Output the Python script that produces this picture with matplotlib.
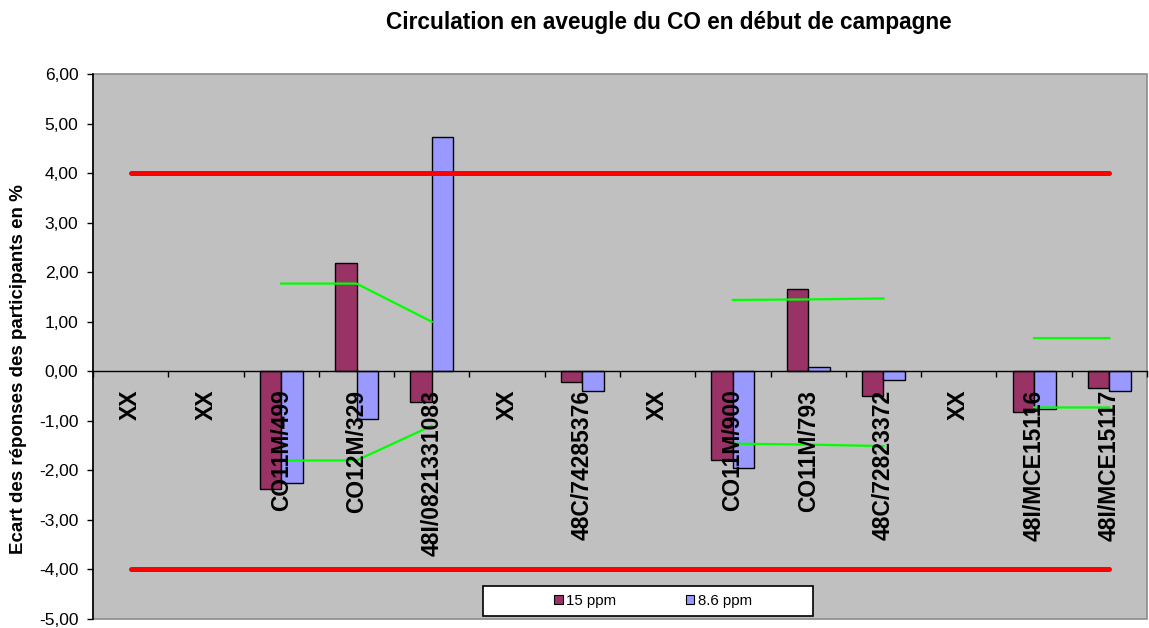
import numpy as np
import matplotlib
matplotlib.use("Agg")
import matplotlib.pyplot as plt
from matplotlib.patches import Patch, Rectangle
from matplotlib.ticker import FuncFormatter

plt.rcParams['font.family'] = ['Liberation Sans', 'DejaVu Sans']

categories = ["XX", "XX", "CO11M/499", "CO12M/329", "48I/0821331083", "XX",
              "48C/74285376", "XX", "CO11M/900", "CO11M/793", "48C/72823372",
              "XX", "48I/MCE15116", "48I/MCE15117"]
nan = np.nan
s15 = [nan, nan, -2.37, 2.19, -0.62, nan, -0.22, nan, -1.80, 1.66, -0.49, nan, -0.83, -0.34]
s86 = [nan, nan, -2.25, -0.96, 4.73, nan, -0.39, nan, -1.95, 0.08, -0.17, nan, -0.77, -0.40]
upper_lim = [nan, nan, 1.77, 1.77, 1.00, nan, nan, nan, 1.44, 1.45, 1.47, nan, 0.67, 0.67]
lower_lim = [nan, nan, -1.80, -1.80, -1.10, nan, nan, nan, -1.46, -1.48, -1.51, nan, -0.73, -0.73]
tol_hi = [4.0] * len(categories)
tol_lo = [-4.0] * len(categories)
series_names = ["15 ppm", "8.6 ppm"]
title = "Circulation en aveugle du CO en début de campagne"
ylabel = "Ecart des réponses des participants en %"

W, H = 1149, 628
fig = plt.figure(figsize=(W / 100, H / 100), dpi=100)
fig.patch.set_facecolor("white")
ax = fig.add_axes([93 / W, 1 - 619 / H, (1147 - 93) / W, (619 - 74) / H])
ax.set_facecolor("#C0C0C0")

x = np.arange(len(categories))
bw = 0.286
c15, c86 = "#993366", "#9999FF"
ax.bar(x - bw / 2, s15, bw, color=c15, edgecolor="black", linewidth=1.0, zorder=2)
ax.bar(x + bw / 2, s86, bw, color=c86, edgecolor="black", linewidth=1.0, zorder=2)

ax.plot(x, upper_lim, color="#00FF00", lw=1.6, zorder=3)
ax.plot(x, lower_lim, color="#00FF00", lw=1.6, zorder=3)
ax.plot(x, tol_hi, color="#FF0000", lw=3.6, solid_capstyle="round", zorder=3)
ax.plot(x, tol_lo, color="#FF0000", lw=3.6, solid_capstyle="round", zorder=3)

ax.set_xlim(-0.5, len(categories) - 0.5)
ax.set_ylim(-5, 6)
ax.set_yticks(np.arange(-5, 7, 1))
ax.yaxis.set_major_formatter(FuncFormatter(lambda v, p: f"{v:.2f}".replace(".", ",")))
ax.tick_params(axis="y", direction="out", length=4.5, width=1, pad=6, labelsize=12.5,
               colors="black")

# category axis at zero
ax.spines["bottom"].set_position(("data", 0))
ax.spines["bottom"].set_color("black")
ax.spines["bottom"].set_linewidth(1.0)
ax.spines["bottom"].set_zorder(2.5)
ax.set_xticks(np.arange(len(categories) + 1) - 0.5)
ax.set_xticklabels([])
ax.tick_params(axis="x", direction="out", length=4, width=1, colors="black")
ax.spines["left"].set_color("black")
ax.spines["left"].set_linewidth(1.2)
for s in ["top", "right"]:
    ax.spines[s].set_visible(False)
ax.add_patch(Rectangle((0, 0), 1, 1, transform=ax.transAxes, fill=False,
                       edgecolor="#8C8C8C", linewidth=1.2, clip_on=False, zorder=1))

for xi, lab in zip(x, categories):
    ax.text(xi, -0.37, lab, rotation=90, ha="center", va="top",
            fontsize=16.5, fontweight="bold", color="black", zorder=4)

ax.set_ylabel(ylabel, fontsize=13.5, fontweight="bold")
ax.yaxis.set_label_coords(-0.0625, 0.459)

fig.text(669 / W, 1 - 22 / H, title, ha="center", va="center",
         fontsize=16.3, fontweight="bold")

# legend
fig.patches.append(Rectangle((483 / W, 1 - 616 / H), 330 / W, 30 / H,
                             transform=fig.transFigure, facecolor="white",
                             edgecolor="black", linewidth=1.2, zorder=5))
handles = [Patch(facecolor=c15, edgecolor="black", linewidth=0.8),
           Patch(facecolor=c86, edgecolor="black", linewidth=0.8)]
fig.legend(handles, series_names, loc="center", bbox_to_anchor=(653 / W, 1 - 601 / H),
           ncol=2, frameon=False, fontsize=10.8, handlelength=0.55, handleheight=0.55,
           handletextpad=0.25, columnspacing=4.6)

fig.savefig("out.png", dpi=100)
